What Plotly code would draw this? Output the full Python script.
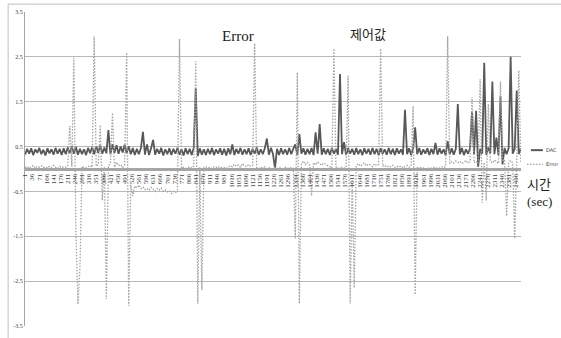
import plotly.graph_objects as go

# sample index (every 10th record)
sample_index = list(range(1, 2442, 10))

dac_values = [
    0.32, 0.45, 0.34, 0.46, 0.31, 0.44, 0.36, 0.47, 0.33, 0.43,
    0.30, 0.46, 0.35, 0.44, 0.32, 0.47, 0.34, 0.45, 0.31, 0.46,
    0.33, 0.48, 0.35, 0.50, 0.34, 0.49, 0.32, 0.45, 0.33, 0.44,
    0.31, 0.47, 0.35, 0.49, 0.33, 0.51, 0.36, 0.52, 0.34, 0.48,
    0.35, 0.87, 0.33, 0.55, 0.36, 0.53, 0.34, 0.50, 0.37, 0.54,
    0.35, 0.51, 0.33, 0.47, 0.31, 0.45, 0.33, 0.46, 0.83, 0.32,
    0.55, 0.31, 0.46, 0.65, 0.32, 0.45, 0.34, 0.47, 0.30, 0.44,
    0.33, 0.46, 0.31, 0.45, 0.34, 0.47, 0.32, 0.44, 0.30, 0.46,
    0.33, 0.45, 0.31, 0.47, 1.80, 0.29, 0.46, 0.32, 0.44, 0.31,
    0.45, 0.33, 0.47, 0.31, 0.44, 0.34, 0.46, 0.32, 0.45, 0.30,
    0.46, 0.33, 0.55, 0.31, 0.45, 0.34, 0.47, 0.32, 0.44, 0.33,
    0.46, 0.31, 0.45, 0.34, 0.48, 0.32, 0.44, 0.33, 0.46, 0.68,
    0.32, 0.47, 0.34, 0.02, 0.45, 0.31, 0.46, 0.33, 0.44, 0.32,
    0.47, 0.33, 0.45, 0.55, 0.31, 0.78, 0.34, 0.46, 0.32, 0.45,
    0.33, 0.47, 0.31, 0.82, 0.34, 1.00, 0.32, 0.46, 0.33, 0.45,
    0.31, 0.47, 0.34, 0.45, 0.32, 2.12, 0.33, 0.60, 0.31, 0.46,
    0.34, 0.45, 0.32, 0.47, 0.33, 0.44, 0.31, 0.46, 0.34, 0.45,
    0.32, 0.47, 0.33, 0.45, 0.31, 0.46, 0.34, 0.44, 0.32, 0.47,
    0.33, 0.45, 0.31, 0.46, 0.34, 0.44, 0.32, 1.32, 0.33, 0.46,
    0.31, 0.45, 0.93, 0.33, 0.47, 0.32, 0.44, 0.34, 0.46, 0.31,
    0.45, 0.33, 0.58, 0.32, 0.46, 0.34, 0.44, 0.31, 0.62, 0.33,
    0.46, 0.32, 0.45, 1.45, 0.33, 0.47, 0.31, 0.44, 0.34, 0.46,
    1.28, 0.33, 1.30, 0.05, 0.45, 0.34, 2.37, 0.32, 0.48, 0.35,
    1.95, 0.33, 0.70, 0.31, 1.62, 0.10, 0.47, 0.33, 0.46, 2.50,
    0.34, 0.45, 1.75, 0.33, 0.46,
]

error_values = [
    0.03, 0.06, 0.01, 0.05, 0.08, 0.02, 0.06, 0.04, 0.07, 0.03,
    0.05, 0.02, 0.06, 0.03, 0.08, 0.04, 0.01, 0.06, 0.03, 0.05,
    0.04, 0.07, 0.96, 0.05, 2.48, -1.37, -3.02, -2.20, 0.06, 0.03,
    0.02, 0.05, 0.08, 0.04, 2.96, 0.06, 0.10, 0.98, -0.70, 0.05,
    -2.90, 0.08, 0.12, 1.25, 0.04, 0.15, 0.07, 0.10, 0.03, 0.09,
    2.60, -3.05, -0.35, -0.60, -0.38, -0.42, -0.36, -0.44, -0.40, -0.46,
    -0.43, -0.48, -0.41, -0.45, -0.50, -0.44, -0.47, -0.42, -0.49, -0.46,
    -0.51, -0.48, -0.55, -0.50, -0.53, -0.47, 2.90, 0.02, 0.04, 0.01,
    0.03, 0.05, 0.02, 0.06, 2.40, -3.00, 0.04, -2.70, 0.03, 0.05,
    0.02, 0.04, 0.01, 0.05, 0.03, 0.06, 0.02, 0.04, 0.03, 0.01,
    0.04, 0.08, 0.05, 0.11, 0.06, 0.09, 0.04, 0.12, 0.07, 0.05,
    0.10, 0.06, 0.08, 2.80, 0.03, 0.01, 0.04, 0.02, 0.05, 0.01,
    0.03, 0.00, 0.02, 0.04, 0.01, 0.03, 0.02, 0.00, 0.04, 0.02,
    0.01, 0.03, 0.02, -1.55, 2.15, -3.00, 0.12, 0.18, 0.10, 0.15,
    0.11, -0.60, 0.14, 0.09, 0.16, 0.12, 0.08, 0.13, 0.10, 0.06,
    0.04, 0.02, 2.68, 0.05, 0.03, 0.01, 0.04, 0.02, 0.03, 2.08,
    -3.00, -0.20, -2.65, 0.08, 0.12, 0.06, 0.10, 0.14, 0.07, 0.11,
    0.09, 0.05, 0.12, 0.08, 0.10, 2.68, 0.06, 0.09, 0.04, 0.07,
    0.05, 0.08, 0.03, 0.06, 0.04, 0.07, 0.02, 0.05, 0.08, 0.04,
    0.06, 1.40, -2.80, 0.03, 0.01, 0.04, 0.02, 0.00, 0.03, 0.01,
    0.02, 0.04, 0.01, 0.03, 0.02, 0.05, 0.03, 0.06, 2.96, 0.12,
    0.16, 0.13, 0.18, 0.14, 0.17, 0.12, 0.15, 0.19, 0.13, 0.16,
    1.60, 0.14, 0.18, 0.12, 2.00, -0.75, 0.15, -0.70, 1.45, 0.18,
    0.13, 0.20, 0.16, 0.12, 1.95, 0.17, 0.22, -1.05, 0.15, 0.19,
    0.14, -1.55, 0.18, 2.20, 0.16,
]

x_tick_labels = [
    1, 36, 71, 106, 141, 176, 211, 246, 281, 316, 351, 386, 421, 456, 491,
    526, 561, 596, 631, 666, 701, 736, 771, 806, 841, 876, 911, 946, 981,
    1016, 1051, 1086, 1121, 1156, 1191, 1226, 1261, 1296, 1331, 1366, 1401,
    1436, 1471, 1506, 1541, 1576, 1611, 1646, 1681, 1716, 1751, 1786, 1821,
    1856, 1891, 1926, 1961, 1996, 2031, 2066, 2101, 2136, 2171, 2206, 2241,
    2276, 2311, 2346, 2381, 2416,
]
y_tick_values = [-3.5, -2.5, -1.5, -0.5, 0.5, 1.5, 2.5, 3.5]
y_tick_labels = ["-3.5", "-2.5", "-1.5", "-0.5", "0.5", "1.5", "2.5", "3.5"]

series_names = ["DAC", "Error"]

SERIF = "Liberation Serif, DejaVu Serif, serif"

fig = go.Figure()
fig.add_trace(go.Scatter(
    x=sample_index, y=dac_values, mode="lines", name=series_names[0],
    line=dict(color="#585858", width=1.8),
))
fig.add_trace(go.Scatter(
    x=sample_index, y=error_values, mode="lines", name=series_names[1],
    line=dict(color="#a3a3a3", width=1.3, dash="1.5px,1.5px"),
))

fig.update_layout(
    width=561, height=338,
    margin=dict(l=25, r=40, t=11, b=9),
    paper_bgcolor="white", plot_bgcolor="white",
    showlegend=False,
    font=dict(family=SERIF, color="#404040"),
)
fig.update_xaxes(
    range=[0.5, 2442],
    tickmode="array", tickvals=x_tick_labels,
    ticktext=[str(v) for v in x_tick_labels],
    tickangle=-90, tickfont=dict(size=7, color="#404040", family=SERIF),
    anchor="free", position=0.5,
    showline=True, linecolor="#a6a6a6", linewidth=3,
    showgrid=False, zeroline=False, ticks="",
)
fig.update_yaxes(
    range=[-3.5, 3.5],
    tickmode="array", tickvals=y_tick_values, ticktext=y_tick_labels,
    tickfont=dict(size=6, color="#404040", family=SERIF),
    showgrid=True, gridcolor="#b8b8b8", gridwidth=1,
    showline=True, linecolor="#a6a6a6", linewidth=1,
    zeroline=False, ticks="",
)

# manual legend at right
fig.add_shape(type="line", xref="paper", yref="paper",
              x0=1.02, x1=1.044, y0=0.56, y1=0.56,
              line=dict(color="#585858", width=2))
fig.add_shape(type="line", xref="paper", yref="paper",
              x0=1.012, x1=1.044, y0=0.515, y1=0.515,
              line=dict(color="#a3a3a3", width=1.2, dash="1.5px,1.5px"))
fig.add_annotation(xref="paper", yref="paper", x=1.046, y=0.56,
                   text=series_names[0], showarrow=False, xanchor="left",
                   yanchor="middle",
                   font=dict(size=5, color="#404040", family="DejaVu Sans"))
fig.add_annotation(xref="paper", yref="paper", x=1.046, y=0.515,
                   text=series_names[1], showarrow=False, xanchor="left",
                   yanchor="middle",
                   font=dict(size=5, color="#404040", family="DejaVu Sans"))

# text labels
fig.add_annotation(xref="paper", yref="paper", x=0.43, y=0.925,
                   text="Error", showarrow=False, yanchor="middle",
                   font=dict(size=15, color="#222222", family=SERIF))
fig.add_annotation(xref="paper", yref="paper", x=0.732, y=0.932,
                   text="제어값", showarrow=False, yanchor="middle",
                   font=dict(size=13, color="#222222",
                             family="Noto Sans CJK KR, " + SERIF))
fig.add_annotation(xref="paper", yref="paper", x=1.008, y=0.425,
                   text="시간<br>(sec)", showarrow=False, xanchor="left",
                   yanchor="middle", align="left",
                   font=dict(size=13, color="#222222",
                             family="Liberation Serif, Noto Sans CJK KR"))

# chart area border (top & left)
fig.add_shape(type="line", xref="paper", yref="paper",
              x0=-0.034, x1=1.2, y0=1.025, y1=1.025,
              line=dict(color="#bfbfbf", width=1))
fig.add_shape(type="line", xref="paper", yref="paper",
              x0=-0.034, x1=-0.034, y0=-0.05, y1=1.025,
              line=dict(color="#bfbfbf", width=1))

fig.write_html("out.html",
               config={"displayModeBar": False},
               post_script="document.body.style.margin='0';")
